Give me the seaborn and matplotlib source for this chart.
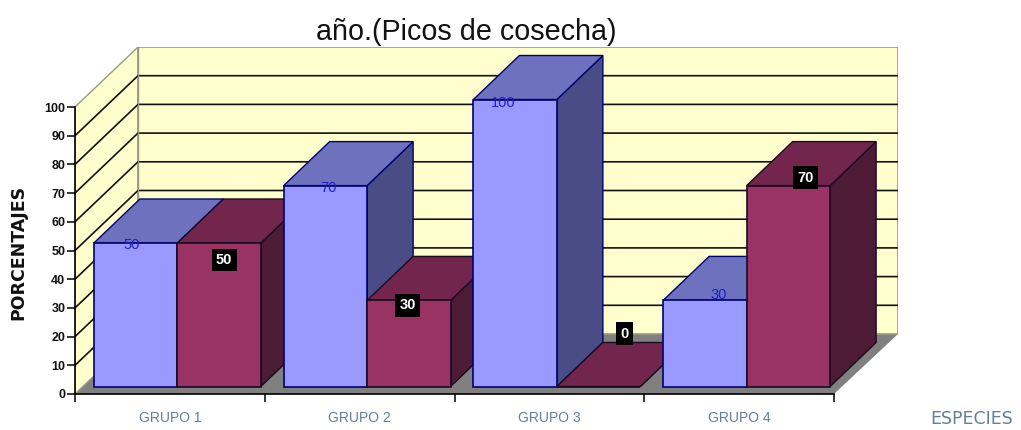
import matplotlib
matplotlib.use("Agg")
import matplotlib.pyplot as plt
from matplotlib.patches import Polygon
import pandas as pd
import seaborn as sns

# ---- data ----
grupos = ["GRUPO 1", "GRUPO 2", "GRUPO 3", "GRUPO 4"]
serie_a = [50, 70, 100, 30]
serie_b = [50, 30, 0, 70]
y_ticks = list(range(0, 101, 10))
titulo = "año.(Picos de cosecha)"
y_titulo = "PORCENTAJES"
x_titulo = "ESPECIES"

# ---- layout (pixels of a 1021x430 canvas) ----
W, H = 1021, 430
PX_LEFT, PX_RIGHT, PX_BOTTOM, PX_TOP = 75, 898, 394, 47
PX_PER_GROUP = 189.75
PX_PER_UNIT = 2.87
WALL_DX, WALL_DY = 63, 60
BAR_SHIFT_DX, BAR_SHIFT_DY = 7.5, 7.5
BAR_DX, BAR_DY = 46, 44
label_offsets_a = [(-4, -2), (3, -2), (-12, -3), (14, 5)]
label_offsets_b = [(5, -17), (-1, -5), (26, 53), (17, 8)]

# ---- colours ----
FRONT = ["#9999FF", "#993366"]
TOP = ["#6E72BE", "#72264E"]
SIDE = ["#4A4D85", "#4E1B37"]
EDGE = ["#000070", "#1A0A20"]
WALL = "#FFFFCE"
FLOOR = "#808080"
WALL_EDGE = "#9A9A80"
TEXT_BLUE = "#5F7F9F"

sns.set_theme(style="white")
plt.rcParams["font.family"] = ["Liberation Sans", "DejaVu Sans"]

df = pd.DataFrame({
    "grupo": grupos * 2,
    "pct": serie_a + serie_b,
    "serie": ["a"] * len(grupos) + ["b"] * len(grupos),
})

fig = plt.figure(figsize=(W / 100, H / 100), dpi=100, facecolor="white")
ax = fig.add_axes([PX_LEFT / W, 1 - PX_BOTTOM / H,
                   (PX_RIGHT - PX_LEFT) / W, (PX_BOTTOM - PX_TOP) / H])
ax.patch.set_alpha(0)

sns.barplot(data=df, x="grupo", y="pct", hue="serie", order=grupos,
            palette=FRONT, saturation=1, width=0.88, gap=0, legend=False,
            linewidth=1.2, ax=ax)

xlo = -0.5
xhi = xlo + (PX_RIGHT - PX_LEFT) / PX_PER_GROUP
ax.set_xlim(xlo, xhi)
ax.set_ylim(0, (PX_BOTTOM - PX_TOP) / PX_PER_UNIT)

ux, uy = 1 / PX_PER_GROUP, 1 / PX_PER_UNIT  # data units per pixel
wx, wy = WALL_DX * ux, WALL_DY * uy
xend = len(grupos) - 0.5

# walls and floor
ymax = max(y_ticks)
ax.add_patch(Polygon([(xlo, 0), (xlo + wx, wy), (xhi, wy), (xend, 0)],
                     fc=FLOOR, ec="none", zorder=1))
ax.add_patch(Polygon([(xlo, 0), (xlo + wx, wy), (xlo + wx, ymax + wy), (xlo, ymax)],
                     fc=WALL, ec=WALL_EDGE, lw=1, zorder=1))
ax.add_patch(Polygon([(xlo + wx, wy), (xhi, wy), (xhi, ymax + wy), (xlo + wx, ymax + wy)],
                     fc=WALL, ec=WALL_EDGE, lw=1.2, zorder=1))
for v in y_ticks[1:-1]:
    ax.plot([xlo, xlo + wx, xhi], [v, v + wy, v + wy], color="#111111", lw=1.2, zorder=1.5)
ax.plot([xlo + wx, xlo + wx], [wy, ymax + wy], color=WALL_EDGE, lw=1, zorder=1.6)

# extrude the library's bars
n = len(grupos)
bars = [b for b in ax.patches if not isinstance(b, Polygon)]
order = sorted(range(len(bars)), key=lambda i: bars[i].get_x())
z = 3
dx, dy = BAR_DX * ux, BAR_DY * uy
for i in order:
    b = bars[i]
    s = i // n
    b.set_x(b.get_x() + BAR_SHIFT_DX * ux)
    b.set_y(BAR_SHIFT_DY * uy)
    x0, x1 = b.get_x(), b.get_x() + b.get_width()
    y0, y1 = b.get_y(), b.get_y() + b.get_height()
    ax.add_patch(Polygon([(x1, y0), (x1 + dx, y0 + dy), (x1 + dx, y1 + dy), (x1, y1)],
                         fc=SIDE[s], ec=EDGE[s], lw=1, zorder=z))
    ax.add_patch(Polygon([(x0, y1), (x0 + dx, y1 + dy), (x1 + dx, y1 + dy), (x1, y1)],
                         fc=TOP[s], ec=EDGE[s], lw=1, zorder=z + 0.1))
    b.set_edgecolor(EDGE[s])
    b.set_zorder(z + 0.2)
    z += 1

# data labels
for i in order:
    b = bars[i]
    s = i // n
    g = i % n
    xc = b.get_x() + b.get_width() / 2
    yt = b.get_y() + b.get_height()
    val = (serie_a if s == 0 else serie_b)[g]
    off = (label_offsets_a if s == 0 else label_offsets_b)[g]
    if s == 0:
        ax.annotate(str(val), (xc, yt), xytext=off, textcoords="offset pixels",
                    ha="center", va="center", color="#1F1FC8", fontsize=10.5,
                    zorder=50, annotation_clip=False)
    else:
        ax.annotate(str(val), (xc, yt), xytext=off, textcoords="offset pixels",
                    ha="center", va="center", color="white", fontsize=10.5,
                    fontweight="bold", zorder=50, annotation_clip=False,
                    bbox=dict(boxstyle="square,pad=0.3", fc="black", ec="none"))

# axes furniture
sns.despine(ax=ax, top=True, right=True)
ax.spines["left"].set_bounds(0, ymax)
ax.spines["bottom"].set_bounds(xlo, xend)
for sp in ("left", "bottom"):
    ax.spines[sp].set_color("black")
    ax.spines[sp].set_linewidth(1.2)
    ax.spines[sp].set_zorder(40)

ax.set_yticks(y_ticks)
ax.tick_params(axis="y", left=True, length=6, width=1.1, color="black", pad=1)
for t in ax.get_yticklabels():
    t.set_fontsize(9)
    t.set_fontweight("bold")
    t.set_color("#111111")

ax.set_xticks([xlo + k for k in range(n + 1)])
ax.set_xticklabels([""] * (n + 1))
ax.tick_params(axis="x", which="major", bottom=True, length=6, width=1.1, color="black")
ax.set_xticks(range(n), labels=grupos, minor=True)
ax.tick_params(axis="x", which="minor", bottom=False, length=0, pad=12,
               labelsize=10, labelcolor=TEXT_BLUE)

ax.set_xlabel("")
ax.set_ylabel("")
fig.text(466 / W, 1 - 32 / H, titulo, ha="center", va="center",
         fontsize=20.7, color="#111111")
fig.text(18 / W, 1 - 252 / H, y_titulo, ha="center", va="center", rotation=90,
         fontsize=12.5, fontweight="bold", color="#111111", family="DejaVu Sans")
fig.text(972 / W, 1 - 419 / H, x_titulo, ha="center", va="center",
         fontsize=12.5, color=TEXT_BLUE, family="DejaVu Sans")

fig.savefig("out.png", dpi=100, facecolor="white")
